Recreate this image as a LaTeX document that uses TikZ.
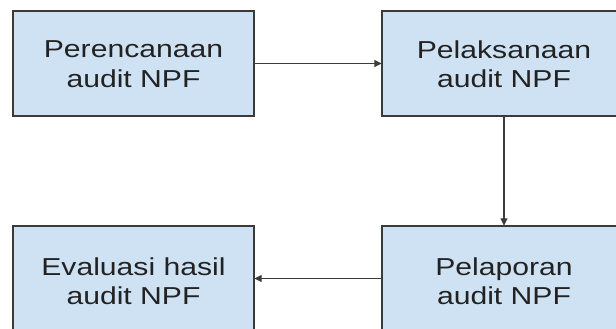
\documentclass[tikz,border=0pt]{standalone}
\usepackage{fontspec}
\setmainfont[FakeStretch=1.23]{Liberation Sans}
\usetikzlibrary{arrows.meta}
\definecolor{boxfill}{HTML}{CFE2F3}
\definecolor{boxline}{HTML}{3A3A3A}
\definecolor{arrowline}{HTML}{3C3C3C}
\definecolor{labeltext}{HTML}{222222}
\begin{document}
\begin{tikzpicture}[x=1pt,y=-1pt,
  stagebox/.style={draw=boxline, fill=boxfill, line width=1.4pt, rectangle,
    inner sep=0pt},
  stagetext/.style={text=labeltext, align=center,
    font=\fontsize{24.5}{29.5}\selectfont},
  flow/.style={draw=arrowline, line width=1.3pt,
    -{Triangle[length=7.5pt,width=7pt]}}]
  \useasboundingbox (0,0) rectangle (616,329);
  % stage boxes (the right and bottom ones run past the page edge)
  \path[stagebox] (13,11) rectangle (254,116);
  \path[stagebox] (382,11) rectangle (626,116);
  \path[stagebox] (13,226) rectangle (254,333);
  \path[stagebox] (382,226) rectangle (626,333);
  % box outlines as named nodes for the connectors
  \node[minimum width=241pt, minimum height=105pt, inner sep=0pt] (plan) at (133.5,63.5) {};
  \node[minimum width=244pt, minimum height=105pt, inner sep=0pt] (exec) at (504,63.5) {};
  \node[minimum width=241pt, minimum height=105pt, inner sep=0pt] (eval) at (133.5,278.5) {};
  \node[minimum width=244pt, minimum height=105pt, inner sep=0pt] (report) at (504,278.5) {};
  % labels
  \node[stagetext] (plantext) at (133.5,64) {Perencanaan\\audit NPF};
  \node[stagetext] (exectext) at (504,64) {Pelaksanaan\\audit NPF};
  \node[stagetext] (evaltext) at (133.5,281) {Evaluasi hasil\\audit NPF};
  \node[stagetext] (reporttext) at (504,281) {Pelaporan\\audit NPF};
  % connectors
  \draw[flow] (plan.east) -- (exec.west);
  \draw[flow] (exec.south) -- (report.north);
  \draw[flow] (report.west) -- (eval.east);
\end{tikzpicture}
\end{document}
